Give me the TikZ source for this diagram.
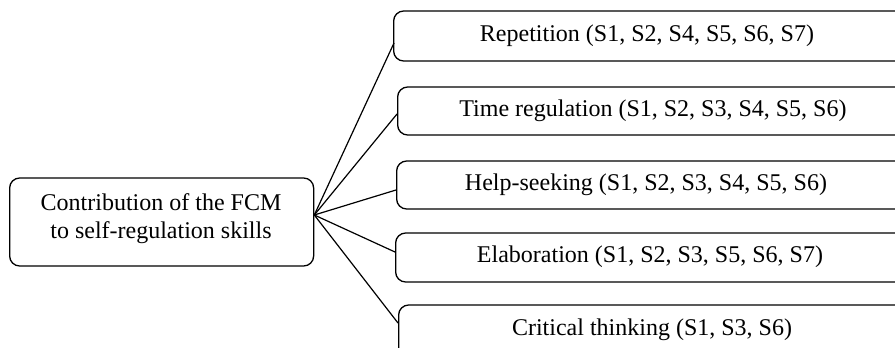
\documentclass[tikz,border=0pt]{standalone}
\usepackage{fontspec}
\setmainfont{Liberation Serif}
\usetikzlibrary{calc}
\begin{document}
\begin{tikzpicture}[x=1pt,y=1pt,
  box/.style={draw=black, line width=1.3pt, rounded corners=10pt, anchor=west, inner sep=0pt},
  lbl/.style={font=\fontsize{24}{28}\selectfont, inner sep=0pt, anchor=center},
  conn/.style={draw=black, line width=1.2pt}]
\useasboundingbox (0,0) rectangle (895,-348);
\clip (0,0) rectangle (895,-348);
\node[box, minimum width=304pt, minimum height=88pt] (L) at (9,-222) {};
\node[lbl, align=center] (Lt) at (161,-219) {Contribution of the FCM\\to self-regulation skills};
\node[box, minimum width=520pt, minimum height=50pt] (B1) at (393,-36) {};
\node[box, minimum width=520pt, minimum height=48pt] (B2) at (397,-111) {};
\node[box, minimum width=520pt, minimum height=48pt] (B3) at (396,-185) {};
\node[box, minimum width=520pt, minimum height=49pt] (B4) at (395,-257.5) {};
\node[box, minimum width=520pt, minimum height=60pt] (B5) at (398,-335) {};
\node[lbl] (T1) at (647,-36) {Repetition (S1, S2, S4, S5, S6, S7)};
\node[lbl] (T2) at (653,-111) {Time regulation (S1, S2, S3, S4, S5, S6)};
\node[lbl] (T3) at (646,-185) {Help-seeking (S1, S2, S3, S4, S5, S6)};
\node[lbl] (T4) at (650,-257) {Elaboration (S1, S2, S3, S5, S6, S7)};
\node[lbl] (T5) at (652,-330) {Critical thinking (S1, S3, S6)};
\coordinate (src) at ($(L.east)+(0,7)$);
\coordinate (e1) at ($(B1.west)+(1,-7)$);
\coordinate (e2) at ($(B2.west)+(0,-3)$);
\coordinate (e3) at ($(B3.west)+(0,-5)$);
\coordinate (e4) at ($(B4.west)+(0,5.5)$);
\coordinate (e5) at (398,-323);
\draw[conn] (src) -- (e1);
\draw[conn] (src) -- (e2);
\draw[conn] (src) -- (e3);
\draw[conn] (src) -- (e4);
\draw[conn] (src) -- (e5);
\end{tikzpicture}
\end{document}
